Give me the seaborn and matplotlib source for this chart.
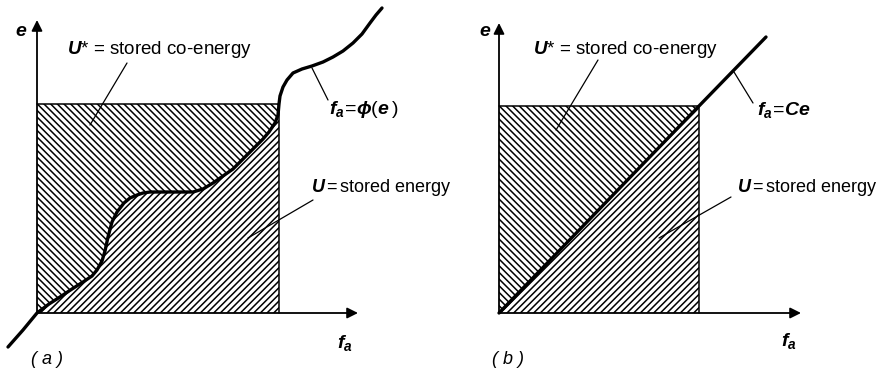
import numpy as np
import pandas as pd
import matplotlib
matplotlib.use("Agg")
import matplotlib.pyplot as plt
import seaborn as sns

# ---- data (diagram units, origin at the axes crossing) ----
# panel (a): nonlinear constitutive curve f_a = phi(e)
curve_a_f = [-29, -14, 0, 12, 23, 35, 46, 55, 60, 65, 68, 71, 75, 80, 87, 93, 100, 106,
             113, 122, 130, 140, 148, 156, 166, 176, 186, 196, 203, 212, 220, 226, 232,
             238, 241, 242, 243, 246, 250, 256, 265, 275, 286, 296, 306, 316, 325, 333,
             339, 345]
curve_a_e = [-34, -17, 0, 9, 16, 24, 31, 37, 43, 52, 62, 76, 91, 101, 110, 115, 118, 120,
             121, 121, 121, 121, 121, 121, 124, 130, 137, 144, 151, 160, 168, 174, 181,
             190, 198, 209, 217, 226, 233, 240, 244, 247, 251, 256, 262, 270, 279, 290,
             298, 305]
rect_a = (242, 209)          # (f_a max, e max) of the operating point
axis_a = (321, 293)          # arrow tips of f_a and e axes

# panel (b): linear curve f_a = C e
curve_b_f = [0, 200, 267]
curve_b_e = [0, 207, 276]
rect_b = (200, 207)
axis_b = (302, 290)

label_coenergy = "$U$* = stored co-energy"
label_energy = r"$U\,$=$\,$stored energy"
label_curve_a = r"$f_a\!=\!\phi(e\,)$"
label_curve_b = r"$f_a\!=\!Ce$"
panel_labels = ["( a )", "( b )"]

# ---- styling ----
sns.set_theme(style="white")
plt.rcParams["font.family"] = ["Liberation Sans", "DejaVu Sans"]
plt.rcParams["mathtext.fontset"] = "custom"
plt.rcParams["mathtext.rm"] = "Liberation Sans"
plt.rcParams["mathtext.it"] = "Liberation Sans:italic:bold"
plt.rcParams["mathtext.bf"] = "Liberation Sans:bold"
plt.rcParams["hatch.linewidth"] = 1.1
plt.rcParams["hatch.color"] = "black"

W, H = 882, 383
fig = plt.figure(figsize=(W / 100, H / 100), dpi=100)
fig.patch.set_facecolor("white")


def panel(left_px, origin_px, f, e, rect, axis, curve_label, curve_lbl_pos,
          leaders, texts, plabel):
    ax = fig.add_axes([left_px / W, 0, 441 / W, 1])
    ox, oy = origin_px
    ax.set_xlim(-(ox - left_px), 441 - (ox - left_px))
    ax.set_ylim(-(H - oy), oy)
    ax.axis("off")
    f = np.asarray(f, float)
    e = np.asarray(e, float)
    rf, re = rect
    inside = (e >= 0) & (e <= re)
    fi, ei = f[inside], e[inside]
    # co-energy region (above curve, left of curve)
    ax.fill(np.r_[fi, 0], np.r_[ei, re], facecolor="white", edgecolor="black",
            hatch="\\\\\\\\\\", lw=0)
    # energy region (below curve)
    ax.fill(np.r_[fi, rf], np.r_[ei, 0], facecolor="white", edgecolor="black",
            hatch="/////", lw=0)
    # rectangle borders
    ax.plot([0, rf, rf], [re, re, 0], color="black", lw=1.1)
    # axes with arrows
    ax.annotate("", xy=(axis[0], 0), xytext=(0, 0),
                arrowprops=dict(arrowstyle="-|>", color="black", lw=1.3,
                                mutation_scale=16, shrinkA=0, shrinkB=0))
    ax.annotate("", xy=(0, axis[1]), xytext=(0, 0),
                arrowprops=dict(arrowstyle="-|>", color="black", lw=1.3,
                                mutation_scale=16, shrinkA=0, shrinkB=0))
    # curve
    df = pd.DataFrame({"f": f, "e": e})
    sns.lineplot(data=df, x="f", y="e", sort=False, estimator=None, color="black",
                 lw=2.4, ax=ax)
    ax.set_xlabel("")
    ax.set_ylabel("")
    # leaders
    for (x0, y0, x1, y1) in leaders:
        ax.plot([x0, x1], [y0, y1], color="black", lw=0.9)
    for (x, y, s, kw) in texts:
        ax.text(x, y, s, va="center", ha="left", color="black", **kw)
    ax.text(*curve_lbl_pos, curve_label, va="center", ha="left", fontsize=14,
            color="black")
    ax.text(plabel[0], plabel[1], plabel[2], va="center", ha="left", fontsize=13,
            fontstyle="italic", color="black")
    return ax


tk = dict(fontsize=13.5)
tk2 = dict(fontsize=13)
panel(0, (37, 313), curve_a_f, curve_a_e, rect_a, axis_a, label_curve_a, (292, 203),
      [(90, 250, 53, 188), (276, 113, 211, 75), (275, 245, 291, 213)],
      [(30, 263, label_coenergy, tk), (274, 126, label_energy, tk2),
       (300, -30, r"$f_a$", dict(fontsize=14)), (-22, 282, r"$e$", dict(fontsize=14))],
      (-6, -47, panel_labels[0]))

panel(441, (499, 313), curve_b_f, curve_b_e, rect_b, axis_b, label_curve_b, (258, 203),
      [(99, 253, 57, 183), (232, 116, 160, 75), (235, 241, 254, 210)],
      [(34, 263, label_coenergy, tk), (238, 126, label_energy, tk2),
       (282, -28, r"$f_a$", dict(fontsize=14)), (-20, 282, r"$e$", dict(fontsize=14))],
      (-7, -47, panel_labels[1]))

fig.savefig("out.png", dpi=100, facecolor="white")
